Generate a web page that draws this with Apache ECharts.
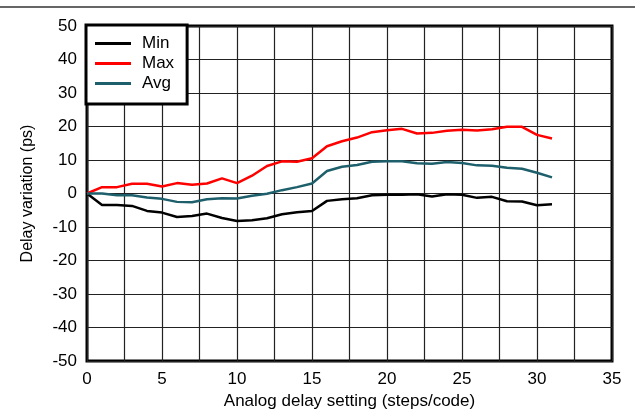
<!DOCTYPE html>
<html><head><meta charset="utf-8">
<script src="https://cdn.jsdelivr.net/npm/echarts@6/dist/echarts.min.js"></script>
<style>html,body{margin:0;padding:0;background:#fff}#c{width:635px;height:413px}</style>
</head><body><div id="c"></div>
<script>
var codes = [];
for (var i = 0; i <= 31; i++) codes.push(i);
var minVals = [0, -3.4, -3.4, -3.7, -5.2, -5.7, -7.0, -6.7, -6.0, -7.3, -8.2, -8.0, -7.4, -6.2, -5.6, -5.2, -2.2, -1.7, -1.4, -0.5, -0.4, -0.4, -0.2, -0.9, -0.2, -0.4, -1.3, -1.0, -2.3, -2.4, -3.5, -3.2];
var maxVals = [0, 1.9, 1.9, 2.9, 2.9, 2.1, 3.1, 2.6, 3.0, 4.5, 3.1, 5.3, 8.2, 9.6, 9.5, 10.5, 14.1, 15.6, 16.7, 18.3, 18.9, 19.3, 17.9, 18.1, 18.7, 19.0, 18.8, 19.2, 19.9, 19.9, 17.5, 16.4];
var avgVals = [0, 0, -0.5, -0.5, -1.2, -1.6, -2.5, -2.6, -1.7, -1.4, -1.5, -0.7, -0.1, 1.0, 1.9, 3.0, 6.7, 8.0, 8.5, 9.5, 9.6, 9.6, 9.0, 8.9, 9.4, 9.1, 8.4, 8.3, 7.7, 7.4, 6.2, 4.8];
var seriesNames = ['Min', 'Max', 'Avg'];
var seriesColors = ['#000000', '#ff0000', '#1e5f6c'];
var xTitle = 'Analog delay setting (steps/code)';
var yTitle = 'Delay variation (ps)';

function pairs(v) { return v.map(function (y, i) { return [codes[i], y]; }); }
var allData = [minVals, maxVals, avgVals];

var chart = echarts.init(document.getElementById('c'));
var font = 'Liberation Sans, Arial, sans-serif';
chart.setOption({
  animation: false,
  backgroundColor: '#fff',
  grid: { left: 87, right: 23, top: 26, bottom: 52, outerBoundsMode: 'none', containLabel: false, show: true, borderColor: '#000', borderWidth: 3, backgroundColor: 'transparent' },
  graphic: [{ type: 'line', shape: { x1: 0, y1: 7, x2: 635, y2: 7 }, style: { stroke: '#333', lineWidth: 1.5 } }],
  legend: {
    data: seriesNames, orient: 'vertical', left: 86, top: 25,
    backgroundColor: '#fff', borderColor: '#000', borderWidth: 3, borderRadius: 0,
    padding: [10, 13, 12, 9], itemGap: 3, itemWidth: 36, itemHeight: 3, icon: 'rect',
    textStyle: { fontFamily: font, fontSize: 17, color: '#000', padding: [0, 0, 0, 6] }
  },
  xAxis: {
    type: 'value', min: 0, max: 35, interval: 5,
    name: xTitle, nameLocation: 'middle', nameGap: 29,
    nameTextStyle: { fontFamily: font, fontSize: 17, color: '#000' },
    axisLine: { show: false }, axisTick: { show: false },
    axisLabel: { fontFamily: font, fontSize: 17, color: '#000', margin: 10 },
    splitLine: { show: true, lineStyle: { color: '#222', width: 1.2 } },
    minorTick: { show: false, splitNumber: 2 },
    minorSplitLine: { show: true, lineStyle: { color: '#222', width: 1.2 } }
  },
  yAxis: {
    type: 'value', min: -50, max: 50, interval: 10,
    name: yTitle, nameLocation: 'middle', nameGap: 51, nameRotate: 90,
    nameTextStyle: { fontFamily: font, fontSize: 16, color: '#000' },
    axisLine: { show: false }, axisTick: { show: false },
    axisLabel: { fontFamily: font, fontSize: 17, color: '#000', margin: 10 },
    splitLine: { show: true, lineStyle: { color: '#222', width: 1.2 } }
  },
  series: seriesNames.map(function (n, k) {
    return {
      name: n, type: 'line', data: pairs(allData[k]), symbol: 'none',
      lineStyle: { color: seriesColors[k], width: 2.5 }, itemStyle: { color: seriesColors[k] }, z: 3 + k
    };
  })
});
</script></body></html>
